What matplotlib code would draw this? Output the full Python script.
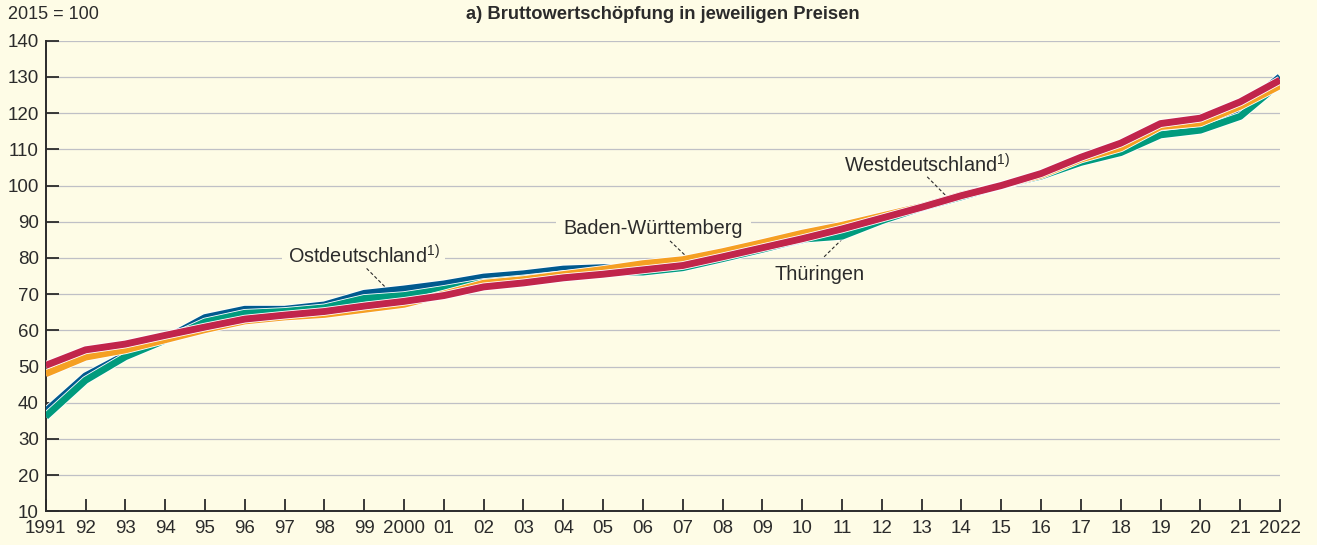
#!/usr/bin/env python3
"""Bruttowertschöpfung in jeweiligen Preisen, 2015 = 100."""
import matplotlib
matplotlib.use("Agg")
import matplotlib.pyplot as plt
import matplotlib.patheffects as pe

plt.rcParams["font.family"] = ["Liberation Sans", "DejaVu Sans"]

jahre = list(range(1991, 2023))
ost = [37.6, 47.4, 53.2, 57.6, 63.5, 65.8, 65.8, 67.0, 70.2, 71.4, 72.8, 74.7,
       75.6, 76.9, 77.3, 77.0, 77.6, 80.0, 82.5, 85.0, 87.5, 90.6, 93.8, 97.0,
       100.0, 102.8, 107.2, 110.5, 115.6, 116.5, 121.0, 130.0]
thueringen = [36.2, 46.2, 52.7, 57.3, 62.3, 64.7, 65.2, 66.2, 68.8, 69.6, 71.3,
              73.2, 74.2, 75.4, 76.2, 76.1, 77.3, 79.8, 82.4, 85.2, 86.0, 90.3,
              93.9, 96.9, 100.0, 102.6, 106.4, 109.1, 114.0, 115.3, 119.1, 128.3]
bw = [48.0, 52.6, 54.6, 57.4, 60.2, 62.6, 63.7, 64.4, 65.8, 67.2, 70.0, 73.0,
      74.0, 75.4, 76.8, 78.4, 79.5, 81.7, 84.2, 86.8, 89.0, 91.6, 94.2, 97.4,
      100.0, 102.9, 107.3, 110.4, 116.3, 117.3, 121.9, 127.6]
west = [50.3, 54.6, 56.2, 58.6, 60.9, 63.1, 64.2, 65.2, 66.7, 68.0, 69.6, 72.0,
        73.1, 74.5, 75.5, 76.7, 77.9, 80.3, 82.8, 85.3, 88.0, 91.0, 94.0, 97.2,
        100.0, 103.3, 107.8, 111.7, 117.1, 118.6, 123.1, 129.1]

xlabels = ["1991"] + [f"{j % 100:02d}" for j in range(1992, 2000)] + ["2000"] + \
          [f"{j % 100:02d}" for j in range(2001, 2022)] + ["2022"]

bg = "#fefce6"
dunkel = "#2b2b2b"

fig = plt.figure(figsize=(13.17, 5.45), dpi=100, facecolor=bg)
ax = fig.add_axes([0.0347, 0.0618, 0.9372, 0.8635], facecolor=bg)

# Reihenfolge: unten Ost, dann Thüringen, BW, oben West
for werte, farbe in ((ost, "#005a8e"), (thueringen, "#009b7d"),
                     (bw, "#f5a023"), (west, "#c1254b")):
    ax.plot(jahre, werte, color=farbe, lw=5, solid_joinstyle="round",
            solid_capstyle="butt", zorder=3,
            path_effects=[pe.Stroke(linewidth=6.2, foreground="white",
                                    joinstyle="round"),
                          pe.Normal()])

ax.set_xlim(1991, 2022)
ax.set_ylim(10, 140)
ax.set_yticks(range(10, 141, 10))
ax.set_xticks(jahre)
ax.set_xticklabels(xlabels)
ax.grid(axis="y", color="#bfc0c6", lw=0.9)
ax.set_axisbelow(True)
for s in ("top", "right"):
    ax.spines[s].set_visible(False)
for s in ("left", "bottom"):
    ax.spines[s].set_color(dunkel)
    ax.spines[s].set_linewidth(1.4)
ax.tick_params(direction="in", length=9, width=1.3, color=dunkel,
               labelsize=13.5, labelcolor=dunkel)
ax.tick_params(axis="y", pad=5)
ax.tick_params(axis="x", pad=6)

# Beschriftungen mit Hintergrundkasten unter den Linien, über dem Gitter
box = dict(boxstyle="square,pad=0.3", fc=bg, ec="none")
tkw = dict(fontsize=14.3, color=dunkel, ha="center", va="center", zorder=1.5)
ax.text(1998.98, 80.5, r"Ostdeutschland$^{\mathregular{1)}}$", bbox=box, **tkw)
ax.text(2006.26, 88.2, "Baden-Württemberg",
        bbox=dict(boxstyle="square,pad=0.4", fc=bg, ec="none"), **tkw)
ax.text(2010.44, 75.3, "Thüringen", **tkw)
ax.text(2013.14, 105.7, r"Westdeutschland$^{\mathregular{1)}}$", **tkw)

lkw = dict(color=dunkel, lw=0.8, ls=(0, (3, 2)), zorder=2)
ax.plot([1999.06, 1999.56], [77.1, 71.6], **lkw)
ax.plot([2006.68, 2007.1], [84.7, 80.3], **lkw)
ax.plot([2010.55, 2011.07], [80.3, 85.9], **lkw)
ax.plot([2013.14, 2013.67], [102.4, 96.5], **lkw)

fig.text(0.006, 0.9725, "2015 = 100", fontsize=13, color=dunkel,
         ha="left", va="center")
fig.text(0.503, 0.9725, "a) Bruttowertschöpfung in jeweiligen Preisen",
         fontsize=13.2, fontweight="bold", color=dunkel, ha="center",
         va="center")

fig.savefig("out.png", dpi=100, facecolor=bg)
